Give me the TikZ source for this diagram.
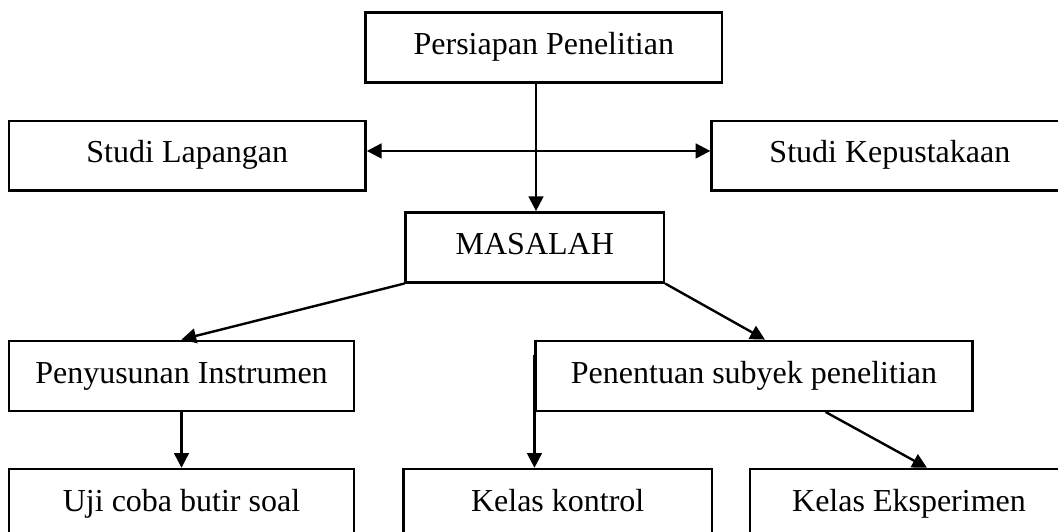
\documentclass[tikz,border=0pt]{standalone}
\usepackage{fontspec}
\setmainfont{Liberation Serif}
\usetikzlibrary{arrows.meta}
\begin{document}
\begin{tikzpicture}[x=0.75pt,y=-0.75pt,
  box/.style={draw=black,line width=1.8pt,inner sep=0pt,minimum height=52.5pt,
    text height=16pt,text depth=5pt,
    font=\fontsize{24}{28}\selectfont,text=black},
  conn/.style={draw=black,line width=1.8pt},
  arr/.style={conn,-{Triangle[length=11pt,width=11pt]}},
  arrb/.style={conn,{Triangle[length=11pt,width=11pt]}-{Triangle[length=11pt,width=11pt]}}]
\path[use as bounding box] (0,0) rectangle (1058,532);
\clip (0,0) rectangle (1058,532);
\fill[white] (0,0) rectangle (1058,532);

\node[box,minimum width=267.2pt] (pp) at (543.8,47.3) {Persiapan Penelitian};
\node[box,minimum width=267.5pt,minimum height=52.2pt] (sl) at (187.3,155.5) {Studi Lapangan};
\node[box,minimum width=267.5pt,minimum height=52.2pt] (sk) at (889.9,155.5) {Studi Kepustakaan};
\node[box,minimum width=193.7pt] (ms) at (534.8,247.3) {MASALAH};
\node[box,minimum width=258.75pt] (pi) at (181.5,375.7) {Penyusunan Instrumen};
\node[box,minimum width=327.5pt] (ps) at (754,375.8) {Penentuan subyek penelitian};
\node[box,minimum width=258.75pt] (uj) at (181.5,504) {Uji coba butir soal};
\node[box,minimum width=231.5pt] (kk) at (557.7,504) {Kelas kontrol};
\node[box,minimum width=238.5pt] (ke) at (909,504) {Kelas Eksperimen};

\draw[arr] ([xshift=-5.85pt]pp.south) -- ([xshift=-5.85pt]pp.south |- ms.north);
\draw[arrb] ([yshift=3.4pt]sl.east) -- ([yshift=3.4pt]sk.west);
\draw[arr] (ms.south west) -- (pi.north);
\draw[arr] (ms.south east) -- ([xshift=8.25pt]ps.north);
\draw[arr] (pi.south) -- (uj.north);
\draw[arr] ([yshift=-11.5pt]ps.north west) -- (ps.west |- kk.north);
\draw[arr] ([xshift=53.7pt]ps.south) -- ([xshift=13.5pt]ke.north);
\end{tikzpicture}
\end{document}
